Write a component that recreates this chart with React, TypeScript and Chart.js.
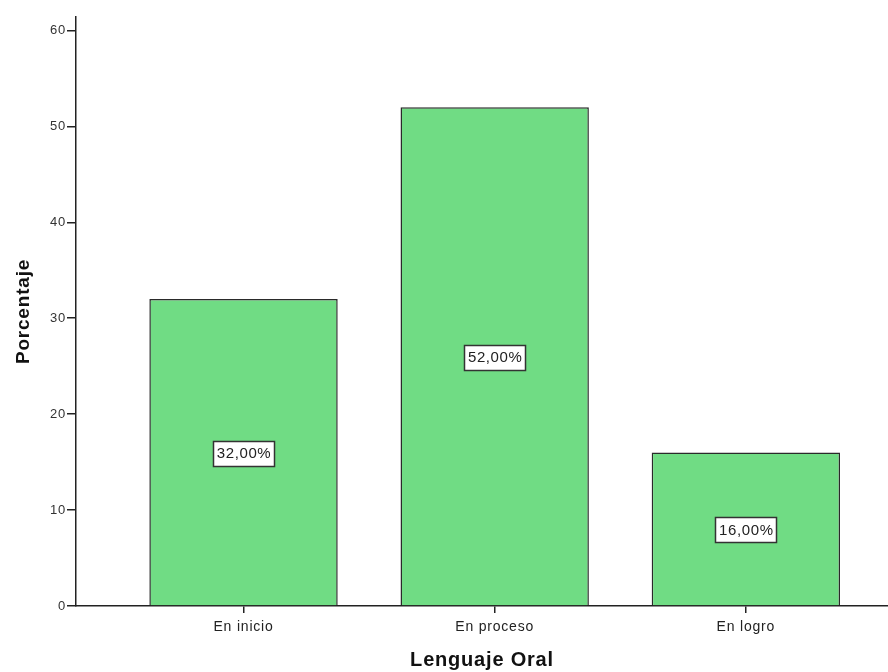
import React, { useEffect, useRef } from "react";
import { Chart, registerables } from "chart.js";

Chart.register(...registerables);

const categories = ["En inicio", "En proceso", "En logro"];
const percentages = [32, 52, 16];
const percentLabels = ["32,00%", "52,00%", "16,00%"];
const yTicks = [0, 10, 20, 30, 40, 50, 60];

const FONT = "'Liberation Sans', Arial, sans-serif";

const spacingPlugin = {
  id: "spacing",
  beforeDraw(chart: any) {
    (chart.ctx as any).letterSpacing = "0.8px";
  },
};

const boxLabelPlugin = {
  id: "boxLabels",
  afterDatasetsDraw(chart: any) {
    const ctx = chart.ctx;
    const meta = chart.getDatasetMeta(0);
    ctx.save();
    (ctx as any).letterSpacing = "0.6px";
    ctx.font = `15px ${FONT}`;
    ctx.textAlign = "center";
    ctx.textBaseline = "middle";
    meta.data.forEach((el: any, i: number) => {
      const text = percentLabels[i];
      const cx = el.x;
      const cy = (el.y + el.base) / 2 + 1;
      const w = Math.round(ctx.measureText(text).width + 7);
      const h = 25;
      const x0 = Math.round(cx - w / 2) + 0.5;
      const y0 = Math.round(cy - h / 2) + 0.5;
      ctx.fillStyle = "#ffffff";
      ctx.fillRect(x0, y0, w, h);
      ctx.strokeStyle = "#333333";
      ctx.lineWidth = 1.5;
      ctx.strokeRect(x0, y0, w, h);
      ctx.fillStyle = "#222222";
      ctx.fillText(text, cx + 0.5, cy + 1);
    });
    ctx.restore();
  },
};

export default function App() {
  const ref = useRef<HTMLCanvasElement>(null);
  useEffect(() => {
    document.body.style.margin = "0";
    const chart = new Chart(ref.current as HTMLCanvasElement, {
      type: "bar",
      data: {
        datasets: [
          {
            data: percentages.map((v, i) => ({ x: i + 1, y: v })),
            backgroundColor: "rgb(112,220,132)",
            borderColor: "#2a2a2a",
            borderWidth: 1.5,
            barPercentage: 0.75,
            categoryPercentage: 1,
          },
        ],
      },
      options: {
        animation: false,
        responsive: false,
        maintainAspectRatio: false,
        layout: { padding: { top: 17, left: 0, right: 0, bottom: 0 } },
        plugins: { legend: { display: false }, tooltip: { enabled: false } },
        scales: {
          x: {
            type: "linear",
            offset: false,
            min: 0.333,
            max: 3.566,
            afterBuildTicks: (scale: any) => {
              scale.ticks = categories.map((_, i) => ({ value: i + 1 }));
            },
            afterFit: (scale: any) => {
              scale.height = 66;
            },
            ticks: {
              callback: (v: any) => categories[Math.round(Number(v)) - 1] ?? "",
              font: { family: FONT, size: 14 },
              color: "#222",
              padding: 6,
              autoSkip: false,
              maxRotation: 0,
            },
            grid: { offset: false, drawOnChartArea: false, drawTicks: true, tickLength: 7, color: "#222", lineWidth: 1.5 },
            border: { display: true, color: "#222", width: 1.5 },
            title: {
              display: true,
              text: "Lenguaje Oral",
              font: { family: FONT, size: 20, weight: "bold" },
              color: "#111",
              padding: { top: 0, bottom: 0 },
            },
          },
          y: {
            min: 0,
            max: 61.4,
            afterBuildTicks: (scale: any) => {
              scale.ticks = yTicks.map((v) => ({ value: v }));
            },
            afterFit: (scale: any) => {
              scale.width = 76;
            },
            ticks: {
              font: { family: FONT, size: 13 },
              color: "#333",
              padding: 1,
            },
            grid: { drawOnChartArea: false, drawTicks: true, tickLength: 9, color: "#222", lineWidth: 1.5 },
            border: { display: true, color: "#222", width: 1.5 },
            title: {
              display: true,
              text: "Porcentaje",
              font: { family: FONT, size: 19, weight: "bold" },
              color: "#111",
              padding: { top: 12, bottom: 0 },
            },
          },
        },
      },
      plugins: [spacingPlugin, boxLabelPlugin],
    } as any);
    return () => chart.destroy();
  }, []);
  return (
    <div style={{ width: 888, height: 672 }}>
      <canvas ref={ref} width={888} height={672} style={{ display: "block" }} />
    </div>
  );
}
